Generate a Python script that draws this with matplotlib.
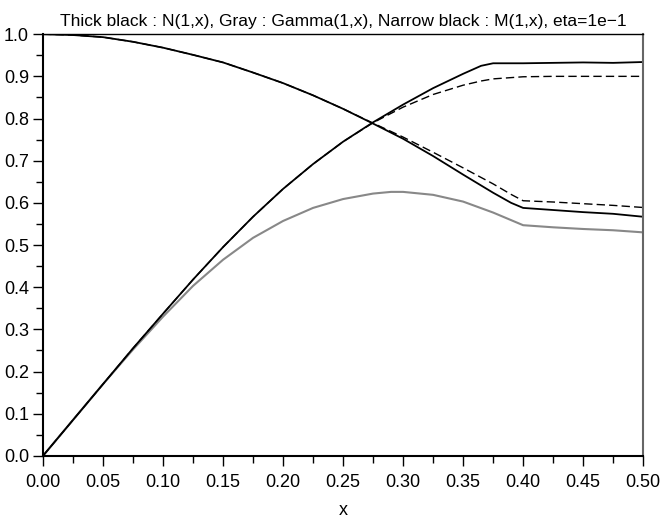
import matplotlib
matplotlib.use('Agg')
import matplotlib.pyplot as plt
from matplotlib.ticker import MultipleLocator

plt.rcParams['font.family'] = ['Liberation Sans', 'DejaVu Sans']

# decreasing curves
x_dec = [0.0, 0.025, 0.05, 0.075, 0.1, 0.125, 0.15, 0.175, 0.2, 0.225, 0.25, 0.275,
         0.3, 0.325, 0.35, 0.375, 0.39, 0.4, 0.425, 0.45, 0.475, 0.5]
n_dec = [1.0, 0.998, 0.993, 0.982, 0.968, 0.951, 0.933, 0.909, 0.884, 0.855, 0.823, 0.788,
         0.752, 0.711, 0.667, 0.624, 0.600, 0.588, 0.583, 0.578, 0.574, 0.567]
m_dec = [1.0, 0.998, 0.993, 0.982, 0.968, 0.951, 0.933, 0.909, 0.884, 0.855, 0.823, 0.789,
         0.756, 0.720, 0.683, 0.645, 0.620, 0.605, 0.602, 0.598, 0.594, 0.589]

# increasing curves
x_inc = [0.0, 0.025, 0.05, 0.075, 0.1, 0.125, 0.15, 0.175, 0.2, 0.225, 0.25, 0.275,
         0.3, 0.325, 0.35, 0.365, 0.375, 0.4, 0.425, 0.45, 0.475, 0.5]
n_inc = [0.0, 0.085, 0.17, 0.255, 0.337, 0.418, 0.495, 0.567, 0.633, 0.692, 0.745, 0.791,
         0.833, 0.872, 0.906, 0.925, 0.931, 0.931, 0.932, 0.933, 0.932, 0.934]
m_inc = [0.0, 0.085, 0.17, 0.255, 0.337, 0.418, 0.495, 0.567, 0.633, 0.692, 0.745, 0.790,
         0.827, 0.857, 0.879, 0.889, 0.894, 0.899, 0.900, 0.900, 0.900, 0.900]

# gamma
x_g = [0.0, 0.025, 0.05, 0.075, 0.1, 0.125, 0.15, 0.175, 0.2, 0.225, 0.25, 0.275,
       0.29, 0.3, 0.325, 0.35, 0.375, 0.4, 0.425, 0.45, 0.475, 0.5]
gamma = [0.0, 0.085, 0.17, 0.252, 0.33, 0.403, 0.465, 0.517, 0.557, 0.588, 0.609, 0.622,
         0.626, 0.626, 0.619, 0.603, 0.577, 0.547, 0.542, 0.538, 0.535, 0.530]

fig = plt.figure(figsize=(6.61, 5.18), dpi=100)
ax = fig.add_axes([0.065, 0.12, 0.908, 0.814])

ax.plot(x_g, gamma, color='#888888', lw=1.5)
ax.plot(x_dec, m_dec, color='black', lw=1.0, dashes=(6, 3))
ax.plot(x_inc, m_inc, color='black', lw=1.0, dashes=(6, 3))
ax.plot(x_dec, n_dec, color='black', lw=1.3)
ax.plot(x_inc, n_inc, color='black', lw=1.3)

ax.set_xlim(0, 0.5)
ax.set_ylim(0, 1.0)
ax.xaxis.set_major_locator(MultipleLocator(0.05))
ax.xaxis.set_minor_locator(MultipleLocator(0.025))
ax.yaxis.set_major_locator(MultipleLocator(0.1))
ax.yaxis.set_minor_locator(MultipleLocator(0.05))
ax.xaxis.set_major_formatter(plt.FormatStrFormatter('%.2f'))
ax.yaxis.set_major_formatter(plt.FormatStrFormatter('%.1f'))
ax.tick_params(which='major', direction='out', length=7, width=1, labelsize=13, pad=3)
ax.tick_params(axis='x', which='major', pad=6)
ax.tick_params(which='minor', direction='out', length=5, width=1)
ax.tick_params(top=False, right=False, which='both')
ax.spines['left'].set_linewidth(1.5)
ax.spines['bottom'].set_linewidth(1.5)
ax.spines['top'].set_linewidth(1.0)
ax.spines['right'].set_color('#666666')
ax.spines['right'].set_linewidth(1.5)

ax.set_xlabel('x', fontsize=13, labelpad=8)
ax.set_title('Thick black : N(1,x), Gray : Gamma(1,x), Narrow black : M(1,x), eta=1e\u22121',
             fontsize=12.5, pad=6)

fig.savefig('out.png', dpi=100)
